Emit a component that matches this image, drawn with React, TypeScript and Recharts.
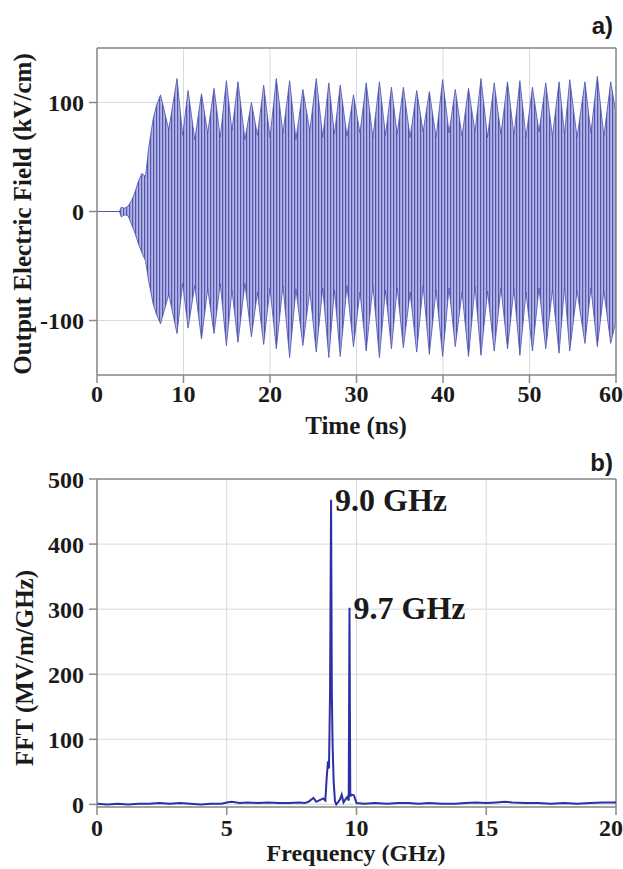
import React from 'react';
import { ComposedChart, Area, Line, XAxis, YAxis, CartesianGrid, ReferenceLine, ReferenceDot } from 'recharts';

// a) output electric field, read as beat envelope (spike / valley)
const timeNs = [0, 2.6, 2.8, 3.2, 3.6, 4.0, 4.4, 4.8, 5.2, 5.6, 6.0, 6.5, 6.9,
  7.35, 8.3, 9.25, 9.9, 10.53, 11.3, 12.08, 12.8, 13.53, 14.25, 14.96, 15.6, 16.3, 17.1,
  17.85, 18.55, 19.27, 20.0, 20.73, 21.5, 22.27, 23.0, 23.8, 24.6, 25.35, 26.1, 26.8, 27.45,
  28.12, 28.9, 29.65, 30.4, 31.12, 31.9, 32.65, 33.35, 34.04, 34.7, 35.42, 36.2, 36.96, 37.7,
  38.42, 39.2, 39.96, 40.7, 41.42, 42.2, 42.95, 43.7, 44.39, 45.15, 45.92, 46.7, 47.46, 48.2,
  48.89, 49.6, 50.34, 51.1, 51.88, 52.65, 53.42, 54.05, 54.65, 55.5, 56.41, 57.1, 57.84, 58.6,
  59.39, 60];
const fieldUpper = [0, 0, 4, 3, 5, 10, 18, 28, 35, 32, 60, 85, 98,
  107, 75, 122, 70, 111, 66, 108, 72, 113, 68, 120, 74, 119, 66,
  100, 70, 116, 68, 122, 72, 120, 66, 112, 74, 122, 68, 118, 71,
  116, 69, 107, 72, 118, 68, 119, 70, 114, 71, 114, 68, 111, 73,
  110, 68, 121, 72, 112, 69, 113, 73, 122, 68, 118, 71, 119, 70,
  120, 68, 114, 73, 118, 69, 119, 71, 121, 68, 119, 72, 124, 69,
  119, 90];
const fieldLower = [0, 0, -5, -3, -4, -12, -20, -30, -38, -45, -65, -85, -95,
  -103, -76, -112, -66, -107, -68, -117, -71, -112, -66, -123, -72, -120, -66,
  -115, -74, -122, -70, -126, -68, -134, -71, -123, -73, -129, -70, -134, -72,
  -133, -68, -124, -74, -128, -68, -134, -72, -126, -70, -125, -74, -129, -68,
  -131, -72, -133, -70, -124, -74, -133, -69, -132, -73, -128, -70, -126, -71,
  -132, -74, -128, -70, -126, -72, -130, -69, -128, -73, -121, -70, -124, -73,
  -121, -100];
const timeTicks = [0, 10, 20, 30, 40, 50, 60];
const fieldTicks = [-100, 0, 100];

// b) FFT spectrum
const freqGHz = [0, 0.4, 0.8, 1.2, 1.6, 2.0, 2.4, 2.8, 3.2, 3.6, 4.0, 4.4, 4.8, 5.0, 5.2, 5.5,
  5.8, 6.2, 6.6, 7.0, 7.4, 7.8, 8.0, 8.15, 8.34, 8.45, 8.6, 8.72, 8.8, 8.85, 8.9, 8.94, 8.98,
  9.02, 9.05, 9.08, 9.12, 9.17, 9.22, 9.3, 9.37, 9.43, 9.5, 9.58, 9.64, 9.7, 9.73, 9.76, 9.8,
  9.9, 10.0, 10.3, 10.7, 11.2, 11.6, 12.0, 12.4, 12.8, 13.3, 13.8, 14.2, 14.6, 15.0, 15.4,
  15.7, 16.0, 16.5, 17.0, 17.5, 18.0, 18.5, 19.0, 19.5, 20.0];
const fftMag = [1, 0, 1, 0, 1, 1, 2, 1, 2, 1, 0, 1, 1, 3, 4, 2,
  3, 2, 3, 2, 2, 3, 2, 4, 10, 4, 7, 9, 6, 40, 66, 55, 170,
  468, 170, 90, 35, 5, 0, 4, 8, 15, 3, 8, 11, 6, 302, 12, 15,
  14, 2, 1, 2, 1, 2, 2, 1, 2, 1, 1, 2, 3, 2, 3,
  4, 3, 2, 2, 1, 2, 1, 2, 3, 3];
const freqTicks = [0, 5, 10, 15, 20];
const fftTicks = [0, 100, 200, 300, 400, 500];

const fieldData = timeNs.map((t, i) => ({ t, band: [fieldLower[i], fieldUpper[i]] }));
const fftData = freqGHz.map((f, i) => ({ f, v: fftMag[i] }));

const serif = "'Liberation Serif', 'Times New Roman', serif";
const tickStyle = { fill: '#1a1a1a', fontSize: 24, fontWeight: 700, fontFamily: serif };
const frame = '#8a8a8a';
const grid = '#dadada';

const titleStyle: React.CSSProperties = {
  position: 'absolute', fontFamily: serif, fontWeight: 700, fontSize: 25, color: '#1a1a1a',
  whiteSpace: 'nowrap', lineHeight: 1,
};

const App = () => {
  return (
    <div style={{ position: 'absolute', left: 0, top: 0, width: 623, height: 869, background: '#fff' }}>
      {/* panel a */}
      <div style={{ position: 'absolute', left: 0, top: 0 }}>
        <ComposedChart width={623} height={440} data={fieldData}
          margin={{ top: 48, right: 7, left: 27, bottom: 20 }}>
          <defs>
            <pattern id="carrier" width="3" height="4" patternUnits="userSpaceOnUse">
              <rect width="3" height="4" fill="#b3b5e0" />
              <rect width="1.2" height="4" fill="#5155b3" />
            </pattern>
          </defs>
          <CartesianGrid stroke={grid} vertical horizontal />
          <XAxis type="number" dataKey="t" domain={[0, 60]} ticks={timeTicks} height={45}
            tick={tickStyle} tickSize={8} tickMargin={2} stroke={frame} strokeWidth={1.5} />
          <YAxis type="number" domain={[-150, 150]} ticks={fieldTicks} width={70}
            tick={tickStyle} tickSize={8} tickMargin={5} stroke={frame} strokeWidth={1.5} />
          <ReferenceLine y={150} stroke={frame} strokeWidth={1.5} />
          <ReferenceLine x={60} stroke={frame} strokeWidth={1.5} />
          <Area type="linear" dataKey="band" fill="url(#carrier)" fillOpacity={1}
            stroke="#4a4fb0" strokeWidth={0.8} isAnimationActive={false} />
        </ComposedChart>
      </div>

      {/* panel b */}
      <div style={{ position: 'absolute', left: 0, top: 440 }}>
        <ComposedChart width={623} height={429} data={fftData}
          margin={{ top: 39, right: 7, left: 27, bottom: 17 }}>
          <CartesianGrid stroke={grid} vertical horizontal />
          <XAxis type="number" dataKey="f" domain={[0, 20]} ticks={freqTicks} height={45}
            tick={tickStyle} tickSize={8} tickMargin={4} stroke={frame} strokeWidth={1.5} />
          <YAxis type="number" domain={[-4, 500]} ticks={fftTicks} width={70}
            tick={tickStyle} tickSize={8} tickMargin={5} stroke={frame} strokeWidth={1.5} />
          <ReferenceLine y={500} stroke={frame} strokeWidth={1.5} />
          <ReferenceLine x={20} stroke={frame} strokeWidth={1.5} />
          <Line type="linear" dataKey="v" stroke="#2b30a6" strokeWidth={2} dot={false}
            isAnimationActive={false} />
          <ReferenceDot x={9.02} y={468} r={0}
            label={{ value: '9.0 GHz', position: 'right', offset: 4, fill: '#1a1a1a',
              fontSize: 32, fontWeight: 700, fontFamily: serif }} />
          <ReferenceDot x={9.73} y={302} r={0}
            label={{ value: '9.7 GHz', position: 'right', offset: 4, fill: '#1a1a1a',
              fontSize: 32, fontWeight: 700, fontFamily: serif }} />
        </ComposedChart>
      </div>

      {/* axis titles and panel tags */}
      <div style={{ ...titleStyle, left: 356, top: 425, transform: 'translate(-50%, -50%)' }}>Time (ns)</div>
      <div style={{ ...titleStyle, fontSize: 24, left: 356, top: 853, transform: 'translate(-50%, -50%)' }}>Frequency (GHz)</div>
      <div style={{ ...titleStyle, left: 22, top: 214, transform: 'translate(-50%, -50%) rotate(-90deg)' }}>
        Output Electric Field (kV/cm)
      </div>
      <div style={{ ...titleStyle, left: 24, top: 668, transform: 'translate(-50%, -50%) rotate(-90deg)' }}>
        FFT (MV/m/GHz)
      </div>
      <div style={{ position: 'absolute', right: 10, top: 14, fontFamily: "'Liberation Sans', Arial, sans-serif",
        fontWeight: 700, fontSize: 24, color: '#1a1a1a', lineHeight: 1 }}>a)</div>
      <div style={{ position: 'absolute', right: 10, top: 451, fontFamily: "'Liberation Sans', Arial, sans-serif",
        fontWeight: 700, fontSize: 24, color: '#1a1a1a', lineHeight: 1 }}>b)</div>
    </div>
  );
};

export default App;
